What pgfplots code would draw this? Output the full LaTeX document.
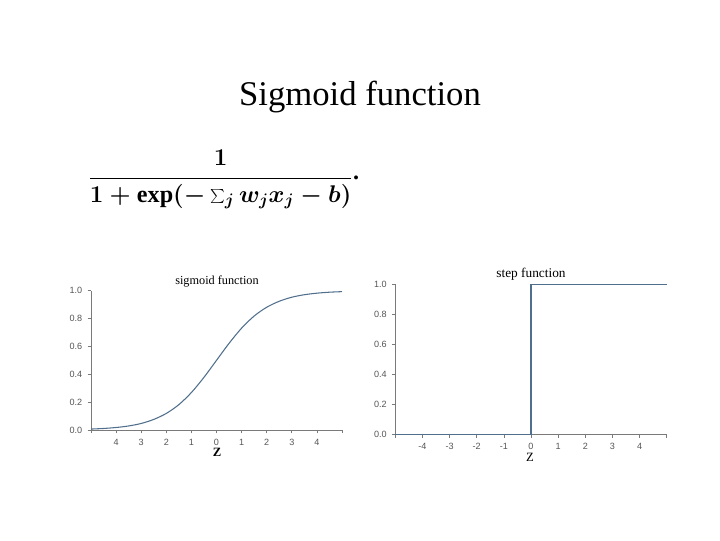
\documentclass[border=0pt]{standalone}
\usepackage{graphicx}
\usepackage{pgfplots}
\pgfplotsset{compat=1.18}
\usepackage{fontspec}
\setmainfont{Liberation Serif}
\setsansfont{Liberation Sans}
\definecolor{axgray}{HTML}{7A7A7A}
\definecolor{curve}{HTML}{4F6F8C}
\definecolor{lblgray}{HTML}{555555}
\newsavebox{\formbox}
\begin{document}
\sbox{\formbox}{\scalebox{1.048}{\fontsize{17.28}{21}\selectfont\boldmath$\displaystyle\frac{1}{1+\exp(-\sum_j w_j x_j-b)}$\raisebox{3.3pt}{\textbf{.}}}}%
\begin{tikzpicture}
\useasboundingbox (0,0) rectangle (540pt,405pt);
% slide title
\node[font=\fontsize{26}{30}\selectfont] at (270pt,332.5pt) {Sigmoid function};
% formula
\node[anchor=base west,inner sep=0pt] at (66pt,267pt) {\usebox{\formbox}};
% plot titles and labels
\node[font=\fontsize{9.2}{11}\selectfont] at (162.75pt,193.5pt) {sigmoid function};
\node[font=\fontsize{9.5}{11}\selectfont\bfseries] at (162.75pt,66pt) {Z};
\node[font=\fontsize{10}{12}\selectfont] at (398.25pt,199pt) {step function};
\node[font=\fontsize{9.5}{11}\selectfont] at (397.5pt,62.25pt) {Z};

\pgfplotsset{
  slideaxis/.style={
    scale only axis,
    anchor=south west,
    axis lines=left,
    axis line style={-,axgray,line width=0.6pt},
    xmin=-5, xmax=5, ymin=0, ymax=1,
    xtick={-5,...,5},
    ytick={0,0.2,0.4,0.6,0.8,1.0},
    yticklabel style={/pgf/number format/fixed,/pgf/number format/fixed zerofill,/pgf/number format/precision=1,xshift=-0.5pt},
    /pgf/number format/assume math mode=true,
    tick align=outside,
    major tick length=2.5pt,
    tick style={axgray,line width=0.5pt},
    ticklabel style={font=\fontsize{6.8}{8}\sffamily,text=lblgray},
    xticklabel style={yshift=-0.5pt,text height=5pt,text depth=0pt},
    clip=false,
  }
}
% left: sigmoid
\begin{axis}[slideaxis,
  at={(68.25pt,82.5pt)}, width=188.25pt, height=104.5pt,
  xticklabels={,4,3,2,1,0,1,2,3,4,}]
\addplot[curve,line width=0.8pt,smooth] coordinates {
(-5,0.0067) (-4.5,0.011) (-4,0.018) (-3.5,0.029) (-3,0.047) (-2.5,0.076)
(-2,0.119) (-1.5,0.182) (-1,0.269) (-0.5,0.378) (0,0.5) (0.5,0.622)
(1,0.731) (1.5,0.818) (2,0.881) (2.5,0.924) (3,0.953) (3.5,0.971)
(4,0.982) (4.5,0.989) (5,0.993)};
\end{axis}
% right: step
\begin{axis}[slideaxis,
  at={(296.5pt,79.25pt)}, width=203.5pt, height=112.5pt,
  xticklabels={,-4,-3,-2,-1,0,1,2,3,4,}]
\addplot[curve,line width=0.8pt] coordinates {(-5,0) (0,0) (0,1) (5,1)};
\end{axis}
\end{tikzpicture}
\end{document}
